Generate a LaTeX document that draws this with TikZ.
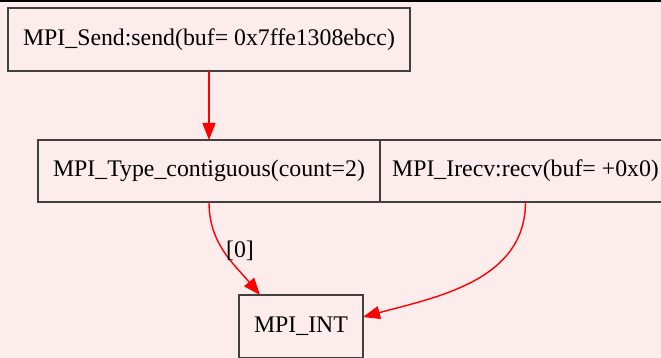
\documentclass[tikz,border=0pt]{standalone}
\usepackage{fontspec}
\setmainfont{Liberation Serif}
\usepackage{xcolor}
\usetikzlibrary{arrows.meta,positioning}
\definecolor{bgpink}{RGB}{253,236,236}

\begin{document}
\begin{tikzpicture}[
  x=0.5pt, y=-0.5pt,
  font=\fontsize{11.9}{14}\selectfont,
  fn/.style={rectangle, draw=black!75, line width=0.75pt, outer sep=0pt,
             inner sep=0pt, minimum height=31.5pt, align=center},
  arr/.style={-{Triangle[length=8.5pt,width=6.5pt]}, line width=0.7pt, red},
  lab/.style={inner sep=1pt, text=black},
  node distance=34.5pt and 0pt]

\clip (0,0) rectangle (661,358);
\fill[bgpink] (0,0) rectangle (661,358);
\draw[line width=1pt] (0,1) -- (661,1);

\node[fn, minimum width=201pt] (send) at (209,39.5) {MPI\_Send:send(buf= 0x7ffe1308ebcc)};
\node[fn, minimum width=171pt, minimum height=31pt, below=of send] (tcontig) {MPI\_Type\_contiguous(count=2)};
\node[fn, minimum width=145.5pt, minimum height=31pt, right=of tcontig] (irecv) {MPI\_Irecv:recv(buf= +0x0)};
\node[fn, minimum width=62pt] (mpiint) at (301,326.5) {MPI\_INT};

\draw[arr] (send) -- (tcontig);
\draw[arr] (tcontig.south) to[out=-90, in=130]
  node[lab, pos=0.48, right] {[0]} ([xshift=10.5pt]mpiint.north west);
\draw[arr] (irecv.south) to[out=-90, in=15] ([yshift=4.75pt]mpiint.east);
\end{tikzpicture}
\end{document}
